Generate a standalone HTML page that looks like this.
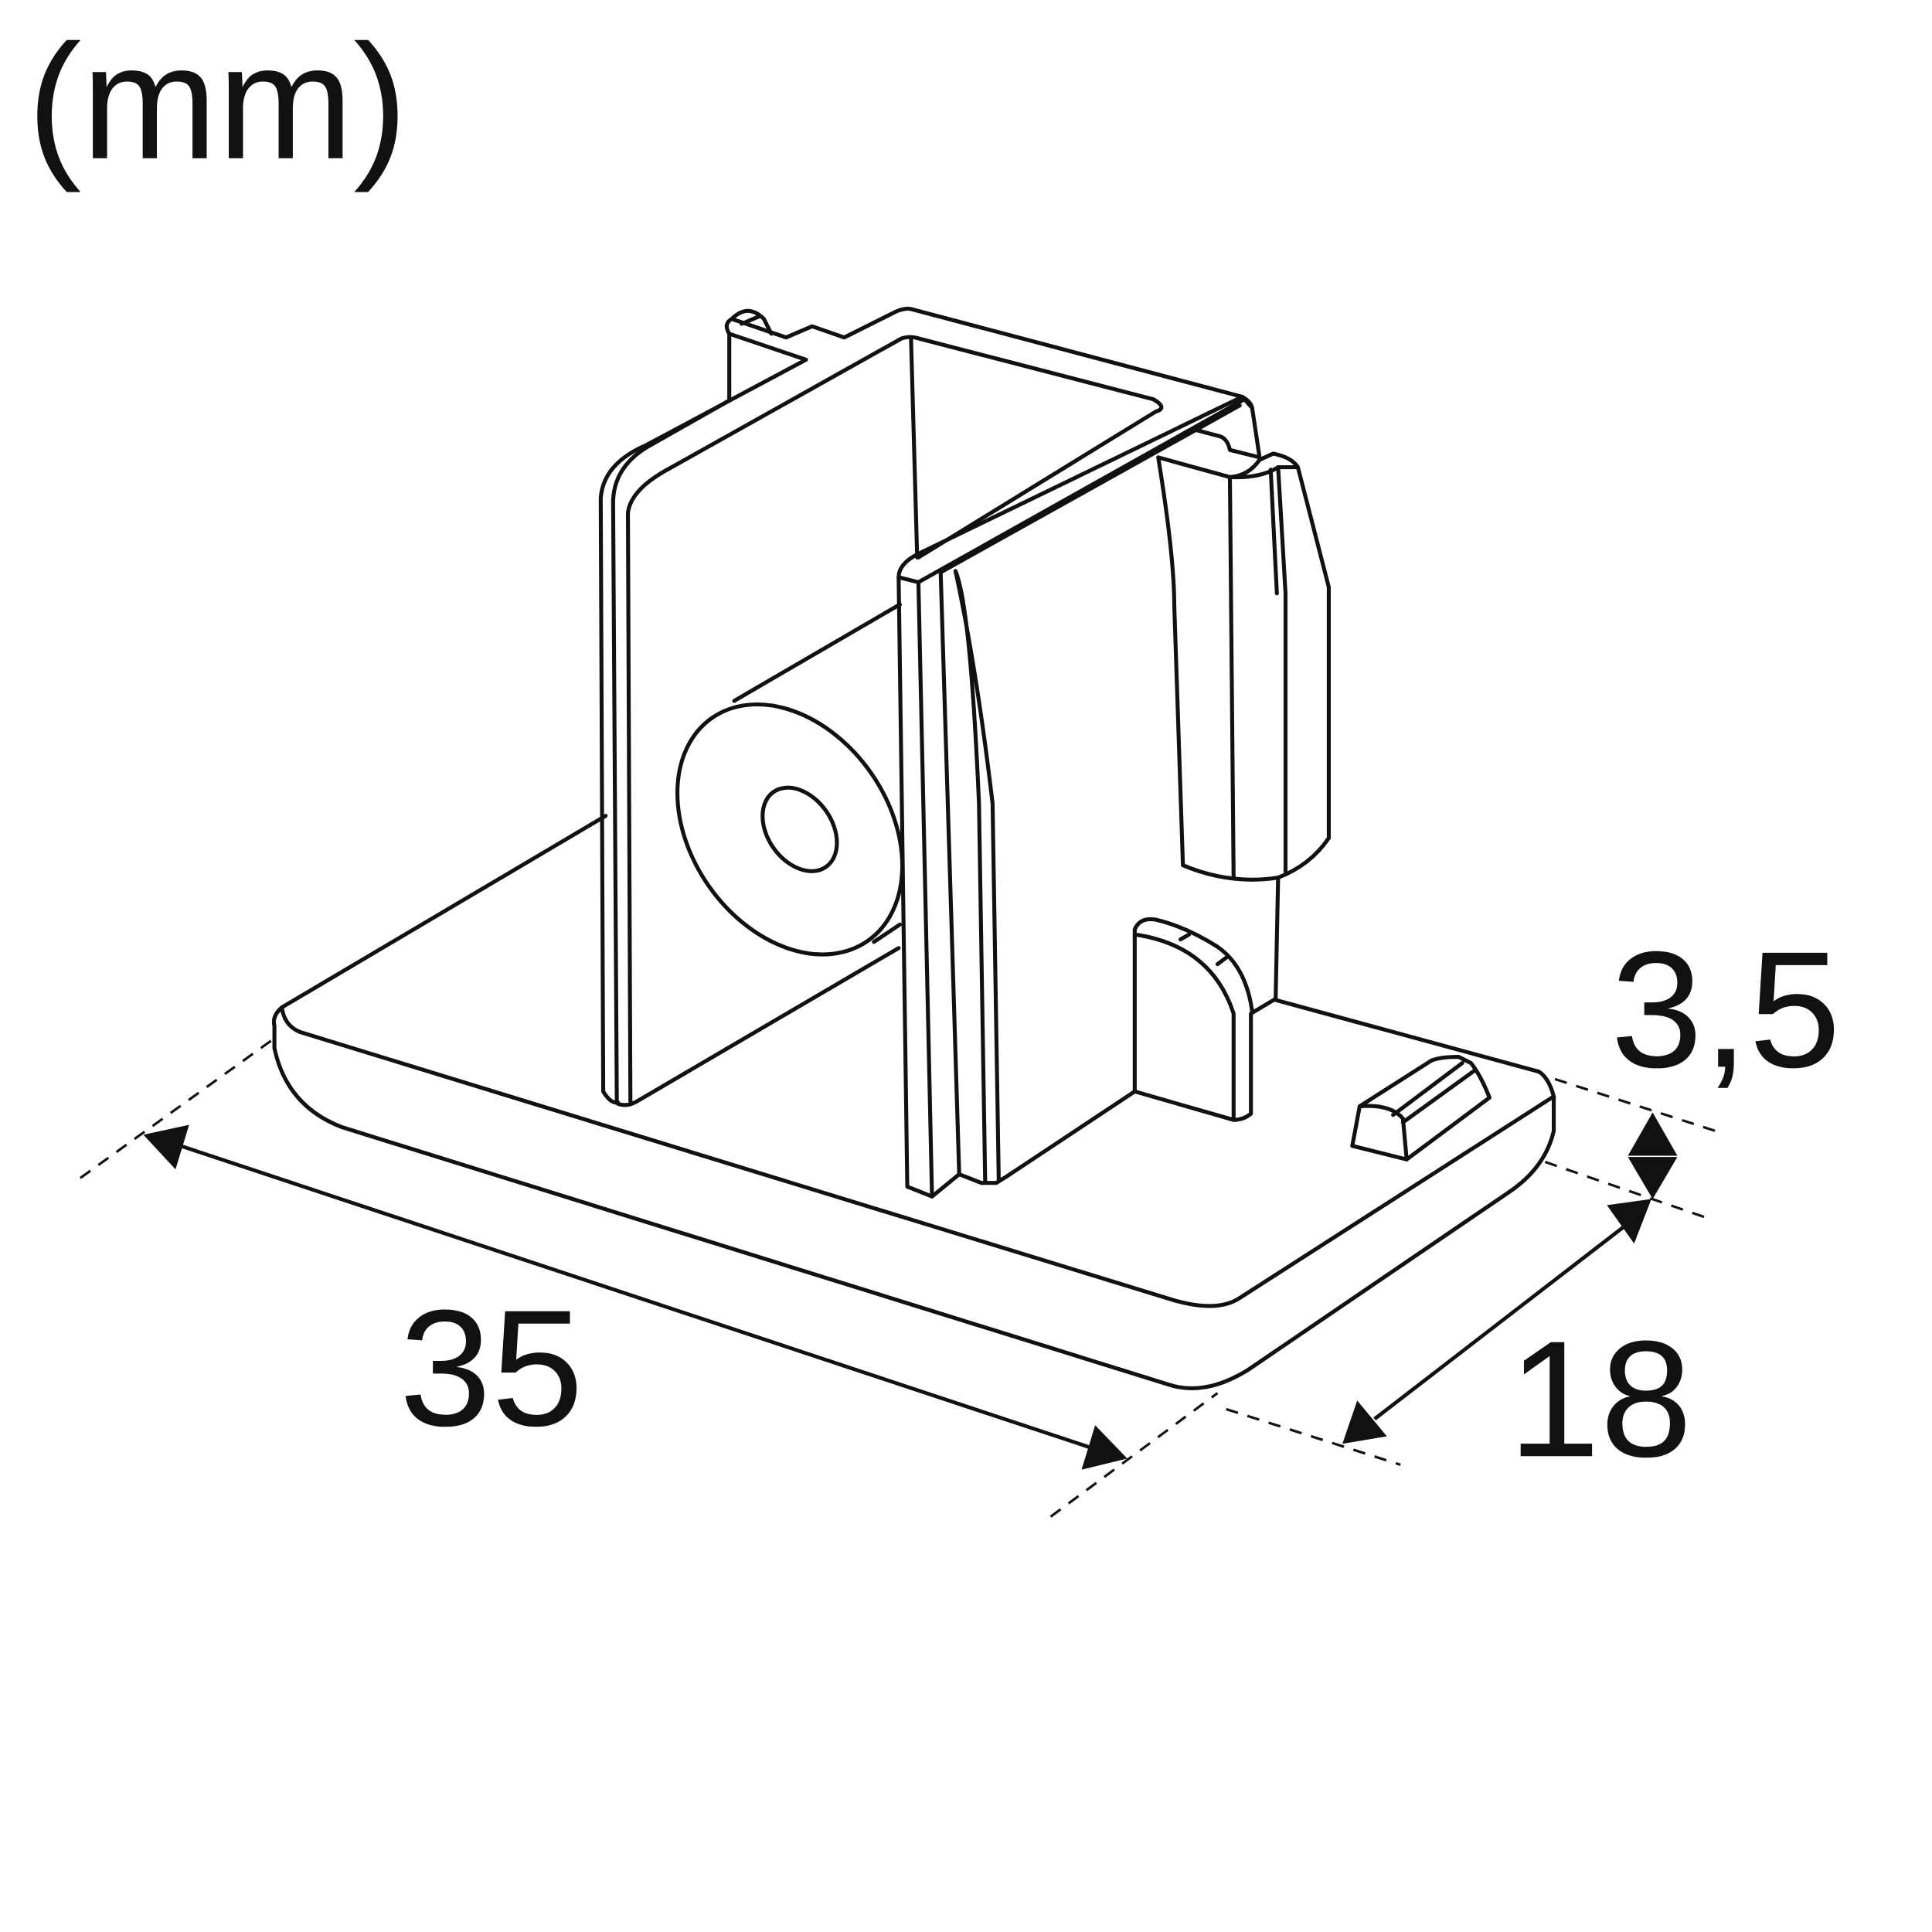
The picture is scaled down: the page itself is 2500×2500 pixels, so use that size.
<!DOCTYPE html>
<html><head><meta charset="utf-8"><style>
html,body{margin:0;padding:0;background:#fff;}
svg{display:block}
text{font-family:"Liberation Sans",sans-serif;fill:#111;}
</style></head><body>
<svg width="2500" height="2500" viewBox="0 0 1563 1563" xmlns="http://www.w3.org/2000/svg">
<g fill="none" stroke="#111" stroke-width="3.2" stroke-linejoin="round" stroke-linecap="round">
<!-- base plate -->
<path d="M490,660 L228,815 Q220,822 222,830 L222,848 Q232,895 277,912 L945,1120 Q975,1130 1010,1108 L1220,965 Q1250,945 1257,915 L1257,887 Q1253,872 1245,867 L1032,809"/>
<path d="M228,815 Q230,830 243,835 L950,1052 Q985,1062 1003,1050 L1257,887"/>
<!-- left vertical plate -->
<path d="M652,291 L523,360 Q488,375 486,403 L488,883 Q494,893 500,892"/>
<path d="M590,324 L523,362 Q497,378 496,405 L499,890"/>
<path d="M729,274 L538,381 Q510,397 508,415 L510,891"/>
<path d="M500,893 Q508,896 517,890 L727,767"/>
<path d="M590,270 L590,324"/>
<path d="M590,270 L652,291"/>
<path d="M590,270 Q585,262 592,258 L636,273 L657,264 L683,273 L725,252 Q732,249 737,250 L1005,321 Q1012,325 1013,330"/>
<path d="M592,258 Q605,245 618,258 L624,270"/>
<path d="M600,262 L614,256"/>
<path d="M729,274 Q734,272 740,273 L933,323 Q945,330 935,333 L743,451"/>
<path d="M737,273 L742,451"/>
<!-- cylinder -->
<path d="M594,567 L728,489"/>
<ellipse cx="639" cy="671" rx="80" ry="110" transform="rotate(-35 639 671)"/>
<ellipse cx="647" cy="671" rx="26" ry="37" transform="rotate(-35 647 671)"/>
<path d="M707,762 L728,748"/>
<!-- front vertical pieces -->
<path d="M1005,321 L1013,330 L1019,370 L995,364 Q993,355 987,353 L968,348"/>
<path d="M727,467 Q727,456 743,448 L1005,321"/>
<path d="M727,467 L743,471 L1005,324"/>
<path d="M761,463 L1003,328"/>
<path d="M727,467 L734,960 L754,968 L776,950 L794,957 L806,957 L814,952 L918,883 L998,906 Q1006,906 1012,901 L1012,820 L1032,808 L1034,710"/>
<path d="M743,471 L754,968"/>
<path d="M761,463 L776,950"/>
<path d="M773,462 Q785,490 792,650 L797,955"/>
<path d="M773,462 Q790,540 803,650 L808,955"/>
<path d="M937,370 Q950,450 950,490 L957,700 Q995,716 1034,710 Q1060,700 1075,678 L1075,475 L1050,378 Q1045,370 1030,367 L1019,372 Q1010,385 995,386 L937,370"/>
<path d="M995,386 L998,710"/>
<path d="M995,386 Q1020,387 1034,378 L1050,378"/>
<path d="M1034,378 L1040,480 L1040,705"/>
<path d="M1028,380 L1033,480"/>
<!-- small arch -->
<path d="M918,883 L918,752 Q922,742 935,744 Q960,750 985,766 Q1008,782 1013,818"/>
<path d="M918,756 Q980,765 998,820 L998,906"/>
<path d="M955,760 L962,756 M985,780 L993,774"/>
<!-- bump right -->
<path d="M1100,895 L1094,927 L1138,938 L1205,888 Q1198,870 1190,860 L1180,855 Q1165,855 1158,858 L1100,895"/>
<path d="M1100,895 Q1125,893 1135,905 L1138,938"/>
<path d="M1127,902 L1183,860 M1135,908 L1193,866"/>
</g>
<!-- dashed -->
<g stroke="#111" stroke-width="2" stroke-dasharray="10,8" fill="none">
<path d="M65,953 L222,840"/>
<path d="M850,1227 L985,1127"/>
<path d="M992,1140 L1133,1185"/>
<path d="M1250,940 L1380,985"/>
<path d="M1258,873 L1388,915"/>
</g>
<!-- dims -->
<g stroke="#111" stroke-width="3" fill="none">
<path d="M140,925 L885,1172"/>
<path d="M1112,1148 L1313,993"/>
</g>
<g fill="#111">
<polygon points="116,918 153,910 142,946"/>
<polygon points="912,1180 875,1189 886,1153"/>
<polygon points="1336,970 1300,975 1322,1006"/>
<polygon points="1086,1168 1098,1133 1122,1162"/>
<polygon points="1337,900 1317,935 1357,935"/>
<polygon points="1337,970 1317,936 1357,936"/>
</g>
<text x="22" y="128" font-size="132">(mm)</text>
<text x="323" y="1153" font-size="134">35</text>
<text x="1220" y="1178" font-size="134">18</text>
<text x="1303" y="863" font-size="134">3,5</text>
</svg>
</body></html>
